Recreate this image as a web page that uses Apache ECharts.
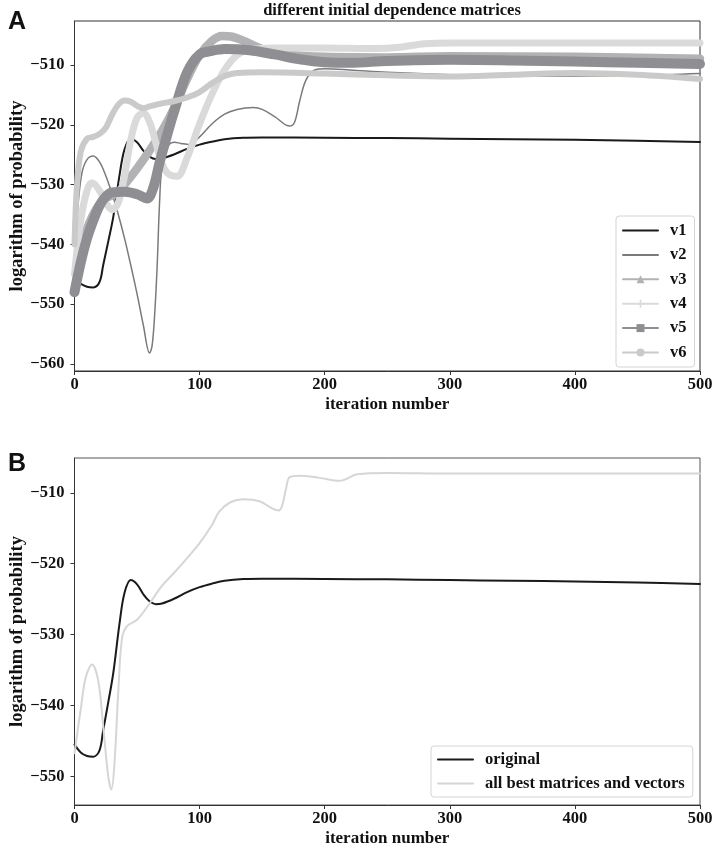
<!DOCTYPE html>
<html>
<head>
<meta charset="utf-8">
<script src="https://cdn.jsdelivr.net/npm/echarts@6/dist/echarts.min.js"></script>
<style>
html,body{margin:0;padding:0;background:#fff;}
#chart{width:713px;height:857px;}
</style>
</head>
<body>
<div id="chart"></div>
<script>
// ---------- data ----------
const titleText = 'different initial dependence matrices';
const xTicks = [0, 100, 200, 300, 400, 500];
const yTicksA = [-560, -550, -540, -530, -520, -510];
const yTicksB = [-550, -540, -530, -520, -510];

const v1T = [0,5,10,15,20,23,27,31,36,40,45,50,55,60,65,70,80,90,100,110,120,135,150,200,250,300,350,400,450,500];
const v1V = [-545.5,-546.6,-547.1,-547.2,-546.3,-543.4,-539.5,-535.4,-528.4,-524.1,-522.3,-522.9,-524.3,-525.3,-525.7,-525.6,-524.9,-524.0,-523.3,-522.8,-522.4,-522.15,-522.1,-522.15,-522.2,-522.3,-522.4,-522.5,-522.65,-522.85];

const v2T = [0,3,6,10,15,20,25,30,35,40,45,50,55,60,62,64,66,68,70,75,80,85,92,100,110,120,130,143,150,160,172,176,180,185,192,200,220,250,300,350,400,450,500];
const v2V = [-542,-533,-528,-525.8,-525.2,-526.2,-528.5,-531.5,-535,-539,-543.5,-548.3,-553.5,-558.2,-557,-552,-544,-533,-527,-523.5,-522.9,-523.1,-523.3,-522,-519.8,-518.2,-517.4,-517.1,-517.4,-518.6,-520.2,-519.5,-516,-512.5,-510.8,-510.6,-510.8,-511.2,-511.6,-511.8,-511.8,-511.7,-511.4];

const v3T = [0,5,10,15,20,25,30,35,40,50,60,70,80,90,100,110,118,125,135,150,170,200,250,300,400,500];
const v3V = [-548,-542,-537.5,-535,-533.3,-532.3,-531.8,-531.3,-530,-527.3,-524.3,-521,-517,-512.3,-508.3,-505.9,-505.1,-505.2,-505.9,-507.3,-508.2,-508.6,-508.7,-508.5,-508.6,-508.9];

const v4T = [0,5,10,14,20,25,30,35,40,45,50,55,60,65,70,75,82,90,100,110,120,130,140,160,200,240,260,280,300,400,500];
const v4V = [-545,-536,-531,-529.7,-531,-533,-534.2,-533,-528.5,-522.5,-518.8,-518,-519.5,-523,-526.5,-528.2,-528.6,-525.5,-519.8,-514.8,-510.8,-508.3,-507.4,-507.1,-507.1,-507.2,-507,-506.4,-506.3,-506.3,-506.3];

const v5T = [0,5,10,15,20,25,30,40,50,58,63,68,75,80,90,100,110,120,140,160,180,200,220,250,300,350,400,450,500];
const v5V = [-548,-543,-539,-536,-533.5,-532,-531.3,-531.2,-531.6,-532.3,-530.5,-526.3,-521,-517.5,-511.2,-508.2,-507.6,-507.3,-507.5,-508.2,-509,-509.5,-509.6,-509.3,-509.1,-509.2,-509.4,-509.6,-509.8];

const v6T = [0,2,5,10,15,20,25,30,35,40,45,50,55,60,70,80,90,100,110,120,130,150,200,250,300,350,400,450,500];
const v6V = [-540,-530,-524.5,-522.3,-522,-521.5,-520.5,-518.3,-516.6,-515.9,-516.1,-516.8,-517.2,-516.9,-516.4,-516,-515.4,-514.5,-513,-511.8,-511.3,-511.2,-511.4,-511.7,-511.9,-511.6,-511.3,-511.6,-512.3];

const bestT = [0,5,9,14,19,23,27,29.5,32,35,38,42,50,60,70,80,90,100,110,116,125,135,148,158,163,166,169,172,180,196,212,226,250,300,400,500];
const bestV = [-546.7,-540.5,-536,-534.2,-536.5,-543,-550,-551.8,-548,-538,-530.5,-528.8,-527.9,-525.6,-523.1,-521.2,-519.2,-517.1,-514.5,-512.6,-511.3,-510.9,-511.2,-512.2,-512.5,-511.8,-509.5,-507.8,-507.6,-507.9,-508.3,-507.4,-507.2,-507.3,-507.3,-507.3];

const namesA = ['v1','v2','v3','v4','v5','v6'];
const namesB = ['original', 'all best matrices and vectors'];

// ---------- helpers ----------
function pairs(t, v) { return t.map((x, i) => [x, v[i]]); }
const SERIF = 'Liberation Serif';
const minusFmt = v => (v < 0 ? '\u2212' + Math.abs(v) : String(v));
const plusPath = 'path://M4,0H6V4H10V6H6V10H4V6H0V4H4Z';

function lineSeries(name, t, v, color, width, symbol, gi, symSize) {
  return {
    name: name, type: 'line', xAxisIndex: gi, yAxisIndex: gi,
    data: pairs(t, v), smooth: 0.35, showSymbol: false, symbol: symbol || 'none',
    symbolSize: symSize || 8,
    lineStyle: { color: color, width: width, cap: 'round', join: 'round' },
    itemStyle: { color: color },
    emphasis: { disabled: true }, animation: false
  };
}

const axisFont = { fontFamily: SERIF, fontWeight: 'bold', fontSize: 16.5, color: '#111' };

function xAxisDef(gi) {
  return {
    type: 'value', gridIndex: gi, min: 0, max: 500, interval: 100,
    name: 'iteration number', nameLocation: 'middle', nameGap: 25, nameMoveOverlap: false,
    nameTextStyle: { fontFamily: SERIF, fontWeight: 'bold', fontSize: 17, color: '#111' },
    axisLine: { show: true, lineStyle: { color: '#333', width: 1 } },
    axisTick: { show: true, inside: false, length: 4, lineStyle: { color: '#333' } },
    axisLabel: Object.assign({ margin: 5, customValues: xTicks, formatter: v => String(v) }, axisFont),
    splitLine: { show: false }
  };
}
function yAxisDef(gi, min, max, ticks) {
  return {
    type: 'value', gridIndex: gi, min: min, max: max,
    name: 'logarithm of probability', nameLocation: 'middle', nameGap: 48, nameMoveOverlap: false,
    nameTextStyle: { fontFamily: SERIF, fontWeight: 'bold', fontSize: 18.5, color: '#111' },
    axisLine: { show: true, lineStyle: { color: '#333', width: 1 } },
    axisTick: { show: true, inside: false, length: 4, customValues: ticks, lineStyle: { color: '#333' } },
    axisLabel: Object.assign({ margin: 10, customValues: ticks, formatter: minusFmt }, axisFont),
    splitLine: { show: false }
  };
}

const chart = echarts.init(document.getElementById('chart'), null, { renderer: 'canvas' });

const legendText = { fontFamily: SERIF, fontWeight: 'bold', fontSize: 16.5, color: '#111', lineHeight: 16, padding: [0, 0, 0, 7] };

const option = {
  backgroundColor: '#fff',
  animation: false,
  title: [
    { text: titleText, left: 387, textAlign: 'center', top: -3,
      textStyle: { fontFamily: SERIF, fontWeight: 'bold', fontSize: 16.5, color: '#111' } },
    { text: 'A', left: 3, top: 5, textStyle: { fontFamily: 'Liberation Sans', fontWeight: 'bold', fontSize: 25, color: '#111' } },
    { text: 'B', left: 3, top: 447, textStyle: { fontFamily: 'Liberation Sans', fontWeight: 'bold', fontSize: 25, color: '#111' } }
  ],
  grid: [
    { left: 74.5, top: 21, width: 625.5, height: 350, show: true, borderColor: '#333', borderWidth: 1,
      backgroundColor: 'transparent', containLabel: false, outerBoundsMode: 'none' },
    { left: 74.5, top: 458, width: 625.5, height: 347, show: true, borderColor: '#555', borderWidth: 1,
      backgroundColor: 'transparent', containLabel: false, outerBoundsMode: 'none' }
  ],
  xAxis: [xAxisDef(0), xAxisDef(1)],
  yAxis: [yAxisDef(0, -561.2, -502.6, yTicksA), yAxisDef(1, -554.0, -505.1, yTicksB)],
  legend: [
    {
      data: namesA.map((n, i) => (i < 2 ? { name: n, itemStyle: { opacity: 0 } } : { name: n })),
      orient: 'vertical', left: 616, top: 216, width: 77,
      padding: [6, 8, 6, 6], itemGap: 7.4, itemWidth: 35, itemHeight: 10,
      backgroundColor: '#fff', borderColor: '#d4d4d4', borderWidth: 1, borderRadius: 3,
      lineStyle: { width: 2 },
      textStyle: legendText,
      selectedMode: false
    },
    {
      data: namesB.map(n => ({ name: n, itemStyle: { opacity: 0 } })),
      orient: 'vertical', left: 431, top: 746,
      padding: [5, 8, 5, 6], itemGap: 7, itemWidth: 35, itemHeight: 10,
      backgroundColor: '#fff', borderColor: '#d4d4d4', borderWidth: 1, borderRadius: 3,
      lineStyle: { width: 2 },
      textStyle: legendText,
      selectedMode: false
    }
  ],
  series: [
    lineSeries(namesA[0], v1T, v1V, '#1a1a1a', 2, 'circle', 0),
    lineSeries(namesA[1], v2T, v2V, '#7a7a7a', 1.5, 'circle', 0),
    lineSeries(namesA[2], v3T, v3V, '#b2b2b5', 8.5, 'triangle', 0, 9),
    lineSeries(namesA[3], v4T, v4V, '#dadada', 7, plusPath, 0, 8),
    lineSeries(namesA[4], v5T, v5V, '#8f8f93', 10, 'rect', 0, 9),
    lineSeries(namesA[5], v6T, v6V, '#cacaca', 6, 'circle', 0, 5),
    lineSeries(namesB[0], v1T, v1V, '#1a1a1a', 2, 'circle', 1),
    lineSeries(namesB[1], bestT, bestV, '#d6d6d6', 2, 'circle', 1)
  ]
};
chart.setOption(option);
</script>
</body>
</html>
